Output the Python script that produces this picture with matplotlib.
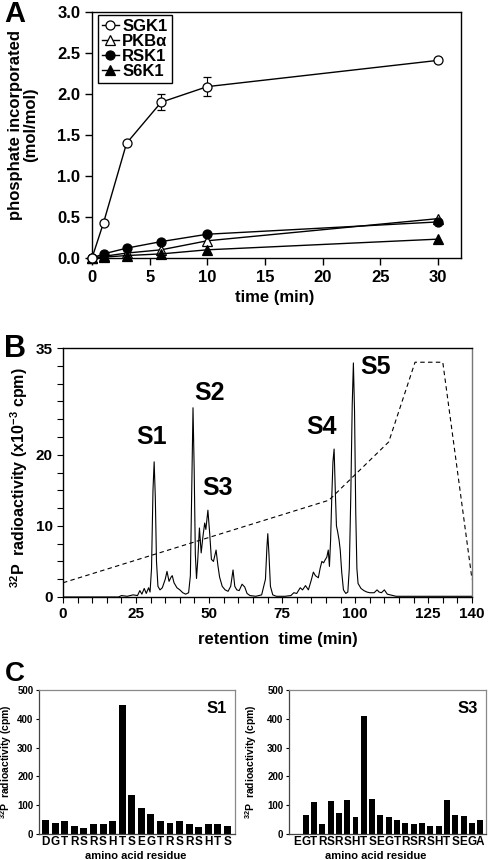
import matplotlib
matplotlib.use("Agg")
import matplotlib.pyplot as plt
from matplotlib.ticker import MultipleLocator, FixedLocator

plt.rcParams['font.family'] = ['Liberation Sans', 'DejaVu Sans']
plt.rcParams['font.weight'] = 'bold'
plt.rcParams['mathtext.fontset'] = 'custom'
plt.rcParams['mathtext.rm'] = 'Liberation Sans:bold'
plt.rcParams['mathtext.it'] = 'Liberation Sans:bold'
plt.rcParams['mathtext.bf'] = 'Liberation Sans:bold'
plt.rcParams['mathtext.default'] = 'rm'

# ---------------- Panel A data ----------------
time_a = [0, 1, 3, 6, 10, 30]
sgk1 = [0.0, 0.43, 1.40, 1.90, 2.09, 2.41]
sgk1_err = [0, 0, 0, 0.10, 0.12, 0]
pkba = [0.0, 0.02, 0.06, 0.10, 0.21, 0.48]
rsk1 = [0.0, 0.05, 0.12, 0.20, 0.29, 0.44]
s6k1 = [0.0, 0.01, 0.03, 0.05, 0.10, 0.23]

# ---------------- Panel B data ----------------
ret_time = [0, 19, 20, 22, 24, 25.5, 26.3, 27, 27.8, 28.5, 29.3, 29.8, 30.3, 30.8, 31.2, 31.6,
            32.0, 32.5, 33.2, 34, 35, 35.6, 36.3, 37.0, 37.4, 38, 39, 40, 41, 42, 43, 43.6,
            44.1, 44.5, 44.9, 45.3, 45.7, 46.1, 46.7, 47.3, 47.9, 48.5, 48.9, 49.6, 50.2,
            50.8, 51.5, 52.4, 53, 53.6, 54.5, 55.5, 56.5, 57.4, 58.2, 58.8, 59.5, 60.3, 61.3,
            62.2, 63, 64, 66, 68, 69.3, 69.8, 70.1, 70.5, 71, 71.8, 73, 76, 78, 79, 80, 81.2,
            82, 83, 84, 85, 85.7, 86.4, 87.4, 88, 88.6, 89.2, 89.7, 90.3, 90.8, 91.2, 91.6,
            92.0, 92.4, 92.8, 93.2, 93.6, 94.0, 94.5, 94.9, 95.4, 96.0, 96.8, 97.5, 98.0, 98.5,
            99.0, 99.4, 99.8, 100.2, 100.6, 101.0, 102, 103, 104, 105, 106.5, 107.5, 108.2,
            109, 110, 111, 112, 114, 118, 125, 135, 140]
radioactivity = [0, 0, 0.2, 0.1, 0.3, 0.2, 0.9, 0.4, 1.2, 0.5, 1.3, 0.7, 4, 15, 19.0, 14,
                 5, 1.5, 1.0, 1.3, 2.5, 3.6, 2.2, 2.8, 3.0, 2.0, 1.3, 1.0, 0.6, 0.4, 0.6, 3,
                 16, 26.6, 18, 6, 2.6, 5, 9.7, 6.2, 8.5, 10.4, 9.5, 12.2, 9,
                 5.3, 5.0, 6.6, 4.5, 2.8, 1.5, 1.0, 0.8, 1.5, 3.8, 1.5, 1.0, 0.9, 1.8,
                 1.4, 0.5, 0.2, 0.1, 0.3, 2.5, 7, 8.9, 6, 1.5, 0.3, 0.1, 0.1, 0.2, 0.6, 0.5, 1.3,
                 1.0, 1.6, 1.0, 2.4, 3.5, 3.0, 2.7, 4.0, 5.0, 4.8, 5.2, 5.6, 6.6, 4.3, 8,
                 14, 19, 20.8, 15, 10, 9.2, 8, 6.6, 3.5, 1.0, 0.5, 0.7, 4, 14,
                 27, 32.9, 26, 12, 4, 1.9, 1.2, 0.9, 0.7, 0.6, 0.6, 1.0, 0.7,
                 0.6, 1.0, 0.4, 0.3, 0.1, 0.1, 0.1, 0.1, 0.1]
grad_time = [0, 91, 111.5, 120.5, 130, 140]
grad_value = [2.0, 13.6, 21.8, 33.0, 33.0, 2.5]
peak_names = ['S1', 'S2', 'S3', 'S4', 'S5']
peak_label_t = [30.5, 50.0, 53.0, 88.5, 107.0]
peak_label_y = [22.5, 28.7, 15.3, 23.9, 32.3]

# ---------------- Panel C data ----------------
s1_residues = list("DGTRSRSHTSEGTRSRSHTS")
s1_cpm = [50, 39, 45, 29, 21, 35, 35, 45, 449, 135, 90, 69, 45, 39, 45, 35, 25, 35, 35, 29]
s3_residues = list("EGTRSRSHTSEGTRSRSHTSEGA")
s3_cpm = [0, 67, 110, 33, 113, 73, 118, 59, 410, 122, 67, 59, 48, 39, 33, 39, 28, 28,
          118, 67, 62, 38, 48]

W, H = 488, 860
fig = plt.figure(figsize=(W / 100, H / 100), dpi=100)

def box(l, t, r, b):
    return [l / W, 1 - b / H, (r - l) / W, (b - t) / H]

# ---------------- Panel A ----------------
axA = fig.add_axes(box(92, 12, 461, 258))
kw = dict(color='black', lw=1.0, markersize=6.5, clip_on=False, markeredgewidth=0.9, zorder=3)
hA = axA.errorbar(time_a, sgk1, yerr=sgk1_err, fmt='o-', mfc='white', mec='black', ecolor='black',
                  elinewidth=0.8, capsize=3, capthick=0.8, **kw)
hB, = axA.plot(time_a, pkba, '^-', mfc='white', mec='black', **kw)
hC, = axA.plot(time_a, rsk1, 'o-', mfc='black', mec='black', **kw)
hD, = axA.plot(time_a, s6k1, '^-', mfc='black', mec='black', **kw)
axA.set_xlim(0, 32)
axA.set_ylim(0, 3.0)
axA.xaxis.set_major_locator(FixedLocator([0, 5, 10, 15, 20, 25, 30]))
axA.yaxis.set_major_locator(MultipleLocator(0.5))
axA.yaxis.set_major_formatter(matplotlib.ticker.FormatStrFormatter('%.1f'))
axA.tick_params(direction='out', length=5, width=1, labelsize=12)
for s in axA.spines.values():
    s.set_linewidth(1.0)
axA.set_xlabel('time (min)', fontsize=12, fontweight='bold')
axA.xaxis.set_label_coords(0.496, -0.13)
axA.set_ylabel('phosphate incorporated\n(mol/mol)', fontsize=12, fontweight='bold', linespacing=1.05)
axA.yaxis.set_label_coords(-0.145, 0.54)
leg = axA.legend([hA[0], hB, hC, hD], ['SGK1', 'PKBα', 'RSK1', 'S6K1'],
                 loc='upper left', bbox_to_anchor=(0.016, 0.988), borderaxespad=0,
                 fontsize=12, handlelength=1.0, handletextpad=0.2, labelspacing=0.0,
                 borderpad=0.25, fancybox=False, edgecolor='black', framealpha=1)
leg.get_frame().set_linewidth(1.0)
for t in leg.get_texts():
    t.set_fontweight('bold')

# ---------------- Panel B ----------------
axB = fig.add_axes(box(63, 348, 472, 597))
axB.plot(ret_time, radioactivity, color='black', lw=0.8)
axB.plot(grad_time, grad_value, color='black', lw=0.8, ls=(0, (4, 3)))
axB.set_xlim(0, 140)
axB.set_ylim(0, 35)
axB.xaxis.set_major_locator(FixedLocator([0, 25, 50, 75, 100, 125, 140]))
axB.xaxis.set_minor_locator(MultipleLocator(5))
axB.yaxis.set_major_locator(FixedLocator([0, 10, 20, 35]))
axB.yaxis.set_minor_locator(MultipleLocator(2.5))
axB.tick_params(which='both', direction='out', length=4, width=0.8, labelsize=11)
for s in axB.spines.values():
    s.set_linewidth(1.0)
axB.spines['right'].set_color('#777777')
for name, tx, ty in zip(peak_names, peak_label_t, peak_label_y):
    axB.text(tx, ty, name, fontsize=18, fontweight='bold', ha='center', va='center')
axB.set_xlabel('retention  time (min)', fontsize=12, fontweight='bold')
axB.xaxis.set_label_coords(0.526, -0.14)
axB.set_ylabel('$^{32}$P  radioactivity (x10$^{-3}$ cpm)', fontsize=11.5, fontweight='bold')
axB.yaxis.set_label_coords(-0.08, 0.48)

# ---------------- Panel C ----------------
def bar_panel(rect, residues, cpm, name, xl, xlab_x, ylab_x):
    ax = fig.add_axes(rect)
    ax.bar(range(len(residues)), cpm, width=0.72, color='black')
    ax.set_xlim(*xl)
    ax.set_ylim(0, 500)
    ax.set_xticks(range(len(residues)))
    ax.set_xticklabels(residues, fontsize=8.5, fontweight='bold')
    ax.yaxis.set_major_locator(MultipleLocator(100))
    ax.tick_params(axis='x', length=0, pad=1.5)
    ax.tick_params(axis='y', direction='out', length=2.5, width=0.8, labelsize=7, pad=1.5)
    for s in ['top', 'right']:
        ax.spines[s].set_color('#888888')
    for s in ['left', 'bottom']:
        ax.spines[s].set_color('#444444')
    for s in ax.spines.values():
        s.set_linewidth(0.9)
    ax.text(0.96, 0.87, name, transform=ax.transAxes, fontsize=12, fontweight='bold',
            ha='right', va='center')
    ax.set_xlabel('amino acid residue', fontsize=8, fontweight='bold')
    ax.xaxis.set_label_coords(xlab_x, -0.12)
    ax.set_ylabel('$^{32}$P  radioactivity (cpm)', fontsize=7.5, fontweight='bold')
    ax.yaxis.set_label_coords(ylab_x, 0.5)
    return ax

bar_panel(box(39, 690, 235, 834), s1_residues, s1_cpm, 'S1', (-0.7, 19.8), 0.495, -0.125)
bar_panel(box(289, 690, 486, 834), s3_residues, s3_cpm, 'S3', (-1.0, 22.7), 0.44, -0.15)

fig.text(4 / W, 1.0, 'A', fontsize=21, fontweight='bold', va='top', ha='left')
fig.text(4 / W, 1 - 349 / H, 'B', fontsize=22, fontweight='bold', va='center', ha='left')
fig.text(5 / W, 1 - 674 / H, 'C', fontsize=20, fontweight='bold', va='center', ha='left')

fig.savefig('out.png', dpi=100)
